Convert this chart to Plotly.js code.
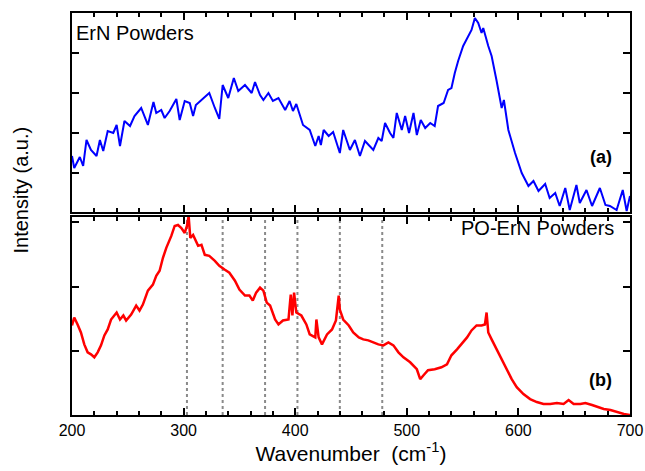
<!DOCTYPE html>
<html>
<head>
<meta charset="utf-8">
<script src="https://cdn.plot.ly/plotly-3.0.1.min.js"></script>
<style>html,body{margin:0;padding:0;background:#fff;}#chart{width:645px;height:471px;}</style>
</head>
<body>
<div id="chart"></div>
<script>
// ErN Powders (top panel, blue)
const ernWavenumber = [200,202,207,210,213,217,222,225,228,232,237,240,243,247,252,256,262,268,273,275.5,280,283,287.5,293.5,296.5,301,305.5,308.5,311,316,323,328,332,335,340,345,349,355,361,364,368.5,371.5,376,380,385,391,395,398,401,407,413,418,421,423,425.5,430,434,440,443,449,453.5,458,462.5,470,474.5,477.5,480.5,485,488,491,495.5,498.5,502,506,509,512.5,516.5,521,525,528,533,537,540,543,546,550.5,555,558,561,564,567,568.5,573,576,580.5,585,587,591,597,603,609,613.5,618,624,628,633,637,642,646,652,655,661,666,673,678,682,688,693.5,697,700];
const ernIntensity = [56,44,55,46,72,62,56,72,61,81,79,87,66,91,86,96,104,87,110,99,102,94,101,113,92,111,109,96,107,112,119,104,93,127,114,134,121,127,119,130,117,112,119,111,114,102,111,101,108,87,82,66,76,67,82,76,80,59,82,62,72,56,71,62,74,71,89,79,74,99,82,96,79,99,77,92,84,89,86,106,109,122,124,139,151,166,176,182,194,189,179,184,166,156,131,104,112,82,59,39,26,31,21,28,14,19,6,24,2,27,9,22,6,24,7,6,2,22,1,16];

// PO-ErN Powders (bottom panel, red)
const poernWavenumber = [200,202,205,208,211,214,217,220,223,226,229,232,235,240,243,246,248.5,253,257.5,260.5,263.5,268,272.5,275.5,278.5,281.5,284.5,289,292,295,298,301,303,304.5,306,308.5,313,316,319,323,328,332,337,341,346,350,355,359,362,365,368.5,371.5,374.5,377.5,382,385,389,394,396,397.5,399,401,405.5,410,413,418,419,421,424,428.5,433,436.5,439,440,443,448,452,457,461,465.5,470,474.5,479,483.5,488,492.5,497,503,509,512,515,519,525,531,536,540,545,549,554,558,562.5,567,570,571.5,573,576,580.5,585,589.5,594,598.5,604.5,610.5,616.5,622.5,628.5,634.5,640.5,645,649.5,655.5,660,666,670.5,676.5,682.5,688.5,694.5,700];
const poernIntensity = [90,98,91,83,71,63,61,58,63,70,80,86,96,103,96,100,95,101,110,105,111,125,131,140,145,158,168,180,190,191,188,183,190,200,178,181,170,171,161,160,155,150,146,143,135,126,120,120,115,123,128,125,113,110,96,91,95,96,121,100,123,103,100,91,81,78,96,78,71,81,86,95,120,106,96,90,83,78,76,75,73,71,70,73,70,63,58,53,46,36,40,45,46,48,51,60,66,71,78,85,90,90,91,103,83,76,66,56,46,36,28,21,16,13,11,11,12,11,15,11,11,12,10,8,6,5,3,1,0];

// Dotted reference lines in panel (b)
const markerWavenumbers = [303, 335, 373, 402, 440, 478];

const xTickValues = [200, 300, 400, 500, 600, 700];
const xTickLabels = ['200', '300', '400', '500', '600', '700'];

const FONT = 'Arial, "Liberation Sans", sans-serif';

const traces = [];
markerWavenumbers.forEach(w => {
  traces.push({x: [w, w], y: [0, 199], xaxis: 'x', yaxis: 'y', mode: 'lines',
    line: {color: '#8a8a8a', width: 2, dash: 'dot'}, hoverinfo: 'skip', showlegend: false});
});
traces.push({x: poernWavenumber, y: poernIntensity, xaxis: 'x', yaxis: 'y', mode: 'lines',
  line: {color: '#ff0000', width: 2.5}, showlegend: false});
traces.push({x: ernWavenumber, y: ernIntensity, xaxis: 'x2', yaxis: 'y2', mode: 'lines',
  line: {color: '#0000ff', width: 2}, showlegend: false});

const commonX = {
  range: [200, 700], showgrid: false, zeroline: false, showline: true, linewidth: 2, linecolor: '#000',
  mirror: 'allticks', ticks: 'inside', ticklen: 7, tickwidth: 2, tickcolor: '#000',
  tickvals: xTickValues, ticktext: xTickLabels,
  minor: {dtick: 20, tick0: 200, ticks: 'inside', ticklen: 4, tickwidth: 2, tickcolor: '#000', showgrid: false}
};
const commonY = {
  range: [0, 199], showgrid: false, zeroline: false, showline: true, linewidth: 2, linecolor: '#000',
  mirror: 'allticks', ticks: 'inside', ticklen: 7, tickwidth: 2, tickcolor: '#000', showticklabels: false
};

const layout = {
  width: 645, height: 471,
  margin: {l: 72, r: 15, t: 13, b: 56},
  paper_bgcolor: '#fff', plot_bgcolor: '#fff',
  font: {family: FONT, color: '#000'},
  showlegend: false,
  xaxis: Object.assign({}, commonX, {anchor: 'y', tickfont: {size: 16, family: FONT, color: '#000'},
    title: {text: 'Wavenumber  (cm<sup>-1</sup>)', font: {size: 21, family: FONT, color: '#000'}, standoff: 6}}),
  xaxis2: Object.assign({}, commonX, {anchor: 'y2', matches: 'x', showticklabels: false}),
  yaxis: Object.assign({}, commonY, {domain: [0, 0.4925], tick0: 0, dtick: 64.5}),
  yaxis2: Object.assign({}, commonY, {domain: [0.505, 1], tick0: 39, dtick: 40}),
  annotations: [
    {text: 'Intensity (a.u.)', xref: 'paper', yref: 'paper', x: -0.092, y: 0.56, textangle: -90,
      showarrow: false, xanchor: 'center', yanchor: 'middle', font: {size: 20, family: FONT}},
    {text: 'ErN Powders', xref: 'paper', yref: 'paper', x: 0.004, y: 0.95, showarrow: false,
      xanchor: 'left', yanchor: 'middle', font: {size: 20, family: FONT}},
    {text: '<b>(a)</b>', xref: 'paper', yref: 'paper', x: 0.948, y: 0.642, showarrow: false,
      xanchor: 'center', yanchor: 'middle', font: {size: 18, family: FONT}},
    {text: 'PO-ErN Powders', xref: 'paper', yref: 'paper', x: 0.975, y: 0.465, showarrow: false,
      xanchor: 'right', yanchor: 'middle', font: {size: 20, family: FONT}},
    {text: '<b>(b)</b>', xref: 'paper', yref: 'paper', x: 0.948, y: 0.087, showarrow: false,
      xanchor: 'center', yanchor: 'middle', font: {size: 18, family: FONT}}
  ]
};

Plotly.newPlot('chart', traces, layout, {staticPlot: true, displayModeBar: false});
</script>
</body>
</html>
